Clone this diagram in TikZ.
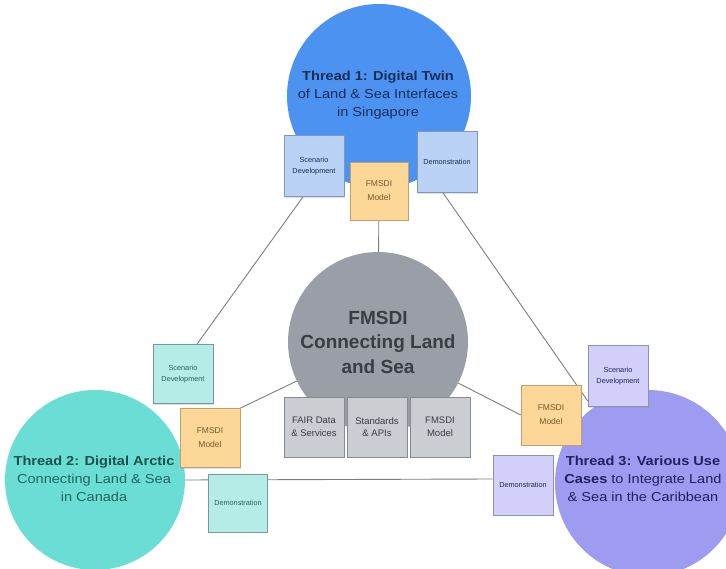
\documentclass[tikz,border=0pt]{standalone}
\usepackage{fontspec}
\setmainfont{Liberation Sans}
\newfontfamily\widefont[FakeStretch=1.12]{Liberation Sans}
\usetikzlibrary{calc,shadows}
\pgfdeclarelayer{background}
\pgfsetlayers{background,main}
\definecolor{cblue}{RGB}{76,146,240}
\definecolor{cteal}{RGB}{106,221,213}
\definecolor{cpurp}{RGB}{158,156,241}
\definecolor{cgray}{RGB}{154,158,166}
\definecolor{bblue}{RGB}{186,210,245}
\definecolor{bblueD}{RGB}{130,150,185}
\definecolor{borng}{RGB}{252,215,152}
\definecolor{borngD}{RGB}{190,160,115}
\definecolor{bteal}{RGB}{182,236,232}
\definecolor{btealD}{RGB}{115,155,152}
\definecolor{bpurp}{RGB}{210,208,249}
\definecolor{bpurpD}{RGB}{145,143,180}
\definecolor{bgray}{RGB}{202,205,210}
\definecolor{bgrayD}{RGB}{135,138,145}
\definecolor{tnavy}{RGB}{28,44,88}
\definecolor{ttealD}{RGB}{30,80,78}
\definecolor{ttealR}{RGB}{36,100,96}
\definecolor{tpurp}{RGB}{30,34,96}
\definecolor{tgray}{RGB}{58,61,68}
\definecolor{torng}{RGB}{120,90,45}
\definecolor{conn}{RGB}{125,125,125}
\tikzset{
  bigcirc/.style={circle, inner sep=0pt, minimum size=#1},
  sbox/.style={rectangle, draw, line width=0.7pt, minimum width=60pt, minimum height=60pt,
    inner sep=1pt, align=center, font=\fontsize{7.3}{10.5}\selectfont,
    drop shadow={shadow xshift=0.8pt, shadow yshift=-1.4pt, opacity=0.25}},
  bluebox/.style={sbox, fill=bblue, draw=bblueD, text=tnavy},
  orngbox/.style={sbox, fill=borng, draw=borngD, text=torng, font=\fontsize{8.5}{14}\selectfont},
  tealbox/.style={sbox, fill=bteal, draw=btealD, text=ttealR},
  purpbox/.style={sbox, fill=bpurp, draw=bpurpD, text=tpurp},
  graybox/.style={sbox, fill=bgray, draw=bgrayD, text=tgray, font=\fontsize{9.5}{12.7}\selectfont},
  link/.style={draw=conn, line width=0.9pt},
  ttext/.style={align=center, font=\widefont\fontsize{13}{18}\selectfont}
}
\begin{document}
\begin{tikzpicture}[x=1pt,y=-1pt]
\useasboundingbox (0,0) rectangle (726,569);
% big circles
\node[bigcirc=184pt, fill=cblue] (t1) at (379,96) {};
\node[bigcirc=180pt, fill=cgray] (c0) at (378,342) {};
\node[bigcirc=180pt, fill=cteal] (t2) at (95,480) {};
\node[bigcirc=186pt, fill=cpurp] (t3) at (648,483) {};
% circle texts
\node[ttext, text=tnavy] (t1txt) at (378,95) {\textbf{Thread 1: Digital Twin}\\of Land \& Sea Interfaces\\in Singapore};
\node[align=center, font=\fontsize{19}{24.5}\selectfont\bfseries, text=tgray] (c0txt) at (378,342) {FMSDI\\Connecting Land\\and Sea};
\node[ttext, text=ttealR] (t2txt) at (94,479) {\textcolor{ttealD}{\textbf{Thread 2: Digital Arctic}}\\Connecting Land \& Sea\\in Canada};
\node[ttext, text=tpurp] (t3txt) at (643,479) {\textbf{Thread 3: Various Use}\\\textbf{Cases} to Integrate Land\\\& Sea in the Caribbean};
% top boxes
\node[bluebox, minimum height=61pt] (sd1) at (314,166) {Scenario\\Development};
\node[orngbox, minimum width=58pt, minimum height=58pt] (fm1) at (379,191) {FMSDI\\Model};
\node[bluebox, minimum height=61pt] (de1) at (447,162) {Demonstration};
% gray boxes
\node[graybox] (b1) at (314,427) {FAIR Data\\\& Services};
\node[graybox] (b2) at (377,427) {Standards\\\& APIs};
\node[graybox] (b3) at (440,427) {FMSDI\\Model};
% left boxes
\node[tealbox, minimum height=59pt] (sd2) at (183,374) {Scenario\\Development};
\node[orngbox, minimum height=59pt] (fm2) at (210,438) {FMSDI\\Model};
\node[tealbox, minimum width=59pt, minimum height=58pt] (de2) at (238,503) {Demonstration};
% right boxes
\node[purpbox, minimum height=61pt] (sd3) at (618,376) {Scenario\\Development};
\node[orngbox] (fm3) at (551,415) {FMSDI\\Model};
\node[purpbox] (de3) at (523,485) {Demonstration};
% connectors
\begin{pgfonlayer}{background}
\draw[link] ($(sd1.south)+(-11,0)$) -- ($(sd2.north)+(14,0)$);
\draw[link] (fm1) -- (c0);
\draw[link] ($(de1.south)+(-4,0)$) -- ($(sd3.south west)+(0,-6)$);
\draw[link] (c0) -- (fm2.north east);
\draw[link] (c0) -- (fm3.west);
\draw[link] (t2.east) -- ($(de3.west)+(0,-6)$);
\end{pgfonlayer}
\end{tikzpicture}
\end{document}
